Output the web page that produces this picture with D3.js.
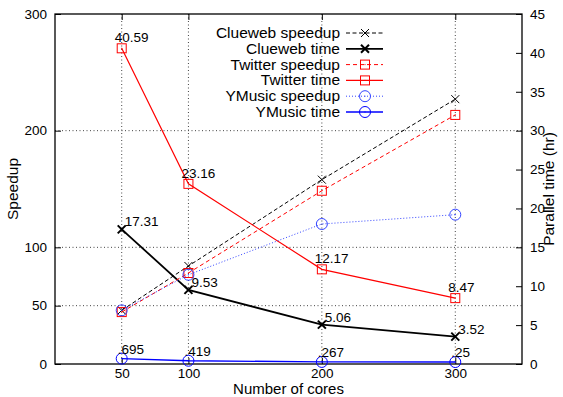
<!DOCTYPE html>
<html>
<head>
<meta charset="utf-8">
<script src="https://cdn.jsdelivr.net/npm/d3@7"></script>
<style>
  body { margin: 0; background: #fff; }
  svg text { font-family: "Liberation Sans", Arial, Helvetica, sans-serif; }
</style>
</head>
<body>
<div id="graphe"></div>
<script>
// donnees
var cores = [50, 100, 200, 300];
var cluewebSpeedup = [46, 84, 158, 227];
var cluewebTime = [17.31, 9.53, 5.06, 3.52];
var twitterSpeedup = [44.5, 78, 148.5, 213.5];
var twitterTime = [40.59, 23.16, 12.17, 8.47];
var ymusicSpeedup = [46, 76.5, 120, 128];
var ymusicTime = [0.695, 0.419, 0.267, 0.25];

var ticksX = [50, 100, 200, 300];
var ticksSpeedup = [0, 50, 100, 200, 300];
var ticksTime = [0, 5, 10, 15, 20, 25, 30, 35, 40, 45];

var largeur = 563, hauteur = 397;
var marge = {gauche: 55, droite: 522, haut: 14, bas: 364};

var svg = d3.select("#graphe").append("svg")
  .attr("width", largeur).attr("height", hauteur);

var x = d3.scaleLinear().domain([0, 350]).range([marge.gauche, marge.droite]);
var yS = d3.scaleLinear().domain([0, 300]).range([marge.bas, marge.haut]);
var yT = d3.scaleLinear().domain([0, 45]).range([marge.bas, marge.haut]);

// grille pointillee
var grille = svg.append("g").attr("stroke", "#444").attr("stroke-width", 1).attr("stroke-dasharray", "1,2.5");
ticksX.forEach(function(t) {
  grille.append("line").attr("x1", x(t)).attr("x2", x(t))
    .attr("y1", marge.haut).attr("y2", marge.bas);
});
ticksSpeedup.filter(function(t) { return t > 0 && t < 300; }).forEach(function(t) {
  grille.append("line").attr("x1", marge.gauche).attr("x2", marge.droite)
    .attr("y1", yS(t)).attr("y2", yS(t));
});

// axes (ticks vers l'interieur, comme gnuplot)
var tailleTick = 13.5;
var axeBas = svg.append("g").attr("transform", "translate(0," + marge.bas + ")")
  .call(d3.axisBottom(x).tickValues(ticksX).tickSize(-6).tickPadding(4));
var axeHaut = svg.append("g").attr("transform", "translate(0," + marge.haut + ")")
  .call(d3.axisTop(x).tickValues(ticksX).tickSize(-6).tickFormat(""));
var axeGauche = svg.append("g").attr("transform", "translate(" + marge.gauche + ",0)")
  .call(d3.axisLeft(yS).tickValues(ticksSpeedup).tickSize(-6).tickPadding(8));
var axeDroite = svg.append("g").attr("transform", "translate(" + marge.droite + ",0)")
  .call(d3.axisRight(yT).tickValues(ticksTime).tickSize(-6).tickPadding(8));

[axeBas, axeHaut, axeGauche, axeDroite].forEach(function(a) {
  a.select(".domain").remove();
  a.selectAll(".tick line").attr("stroke", "#000");
  a.selectAll(".tick text").attr("fill", "#000")
    .style("font-size", tailleTick + "px")
    .style("font-family", "'Liberation Sans', Arial, sans-serif");
});

svg.append("rect")
  .attr("x", marge.gauche).attr("y", marge.haut)
  .attr("width", marge.droite - marge.gauche).attr("height", marge.bas - marge.haut)
  .attr("fill", "none").attr("stroke", "#000").attr("stroke-width", 1.3);

// titres
svg.append("text").attr("x", (marge.gauche + marge.droite) / 2).attr("y", 394)
  .attr("text-anchor", "middle").style("font-size", "15px").text("Number of cores");
svg.append("text")
  .attr("transform", "translate(18," + (marge.haut + marge.bas) / 2 + ") rotate(-90)")
  .attr("text-anchor", "middle").style("font-size", "15.5px").text("Speedup");
svg.append("text")
  .attr("transform", "translate(554," + (marge.haut + marge.bas) / 2 + ") rotate(-90)")
  .attr("text-anchor", "middle").style("font-size", "15.5px").text("Parallel time (hr)");

// symboles
function symbole(g, type, cx, cy, couleur, epais) {
  if (type == "x") {
    var d = 4;
    g.append("path").attr("d", "M" + (cx - d) + "," + (cy - d) + "L" + (cx + d) + "," + (cy + d) +
      "M" + (cx - d) + "," + (cy + d) + "L" + (cx + d) + "," + (cy - d))
      .attr("stroke", couleur).attr("stroke-width", epais).attr("fill", "none");
  } else if (type == "carre") {
    g.append("rect").attr("x", cx - 4.5).attr("y", cy - 4.5).attr("width", 9).attr("height", 9)
      .attr("stroke", couleur).attr("stroke-width", 1).attr("fill", "none");
    g.append("rect").attr("x", cx - 0.5).attr("y", cy - 0.5).attr("width", 1).attr("height", 1).attr("fill", couleur);
  } else {
    g.append("circle").attr("cx", cx).attr("cy", cy).attr("r", 5.5)
      .attr("stroke", couleur).attr("stroke-width", 1).attr("fill", "none");
    g.append("rect").attr("x", cx - 0.5).attr("y", cy - 0.5).attr("width", 1).attr("height", 1).attr("fill", couleur);
  }
}

var series = [
  {nom: "Clueweb speedup", val: cluewebSpeedup, y: yS, couleur: "#000", larg: 1, dash: "4,2.5", sym: "x", symLarg: 1},
  {nom: "Clueweb time", val: cluewebTime, y: yT, couleur: "#000", larg: 1.8, dash: null, sym: "x", symLarg: 2},
  {nom: "Twitter speedup", val: twitterSpeedup, y: yS, couleur: "#f00", larg: 1, dash: "4,3", sym: "carre"},
  {nom: "Twitter time", val: twitterTime, y: yT, couleur: "#f00", larg: 1.2, dash: null, sym: "carre"},
  {nom: "YMusic speedup", val: ymusicSpeedup, y: yS, couleur: "#3344ff", larg: 1, dash: "1,2", sym: "rond"},
  {nom: "YMusic time", val: ymusicTime, y: yT, couleur: "#0000ff", larg: 1.4, dash: null, sym: "rond"}
];

// etiquettes des temps
var etiquettes = {
  "Clueweb time": {dx: 3, dy: -3, txt: function(v) { return v.toFixed(2); }},
  "Twitter time": {dx: -7, dy: -6, txt: function(v) { return v.toFixed(2); }},
  "YMusic time": {dx: -4, dy: -5, txt: function(v) { return String(v).replace(/^0/, ""); }}
};

series.forEach(function(s, i) {
  var g = svg.append("g");
  var ligne = d3.line().x(function(d, j) { return x(cores[j]); }).y(function(d) { return s.y(d); });
  g.append("path").datum(s.val).attr("d", ligne)
    .attr("fill", "none").attr("stroke", s.couleur).attr("stroke-width", s.larg)
    .attr("stroke-dasharray", s.dash);
  s.val.forEach(function(v, j) {
    symbole(g, s.sym, x(cores[j]), s.y(v), s.couleur, s.symLarg || 1);
  });
  var e = etiquettes[s.nom];
  if (e) {
    s.val.forEach(function(v, j) {
      g.append("text").attr("x", x(cores[j]) + e.dx).attr("y", s.y(v) + e.dy)
        .style("font-size", tailleTick + "px").attr("fill", "#000").text(e.txt(v));
    });
  }

  // legende
  var ly = 33 + i * 15.8;
  svg.append("text").attr("x", 340).attr("y", ly + 5).attr("text-anchor", "end")
    .style("font-size", "15.5px").text(s.nom);
  svg.append("line").attr("x1", 346).attr("x2", 383).attr("y1", ly).attr("y2", ly)
    .attr("stroke", s.couleur).attr("stroke-width", s.larg).attr("stroke-dasharray", s.dash);
  symbole(svg, s.sym, 365, ly, s.couleur, s.symLarg || 1);
});
</script>
</body>
</html>
